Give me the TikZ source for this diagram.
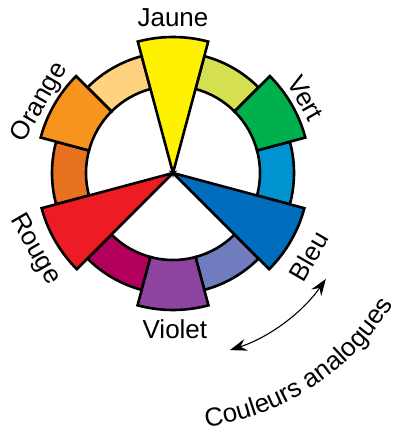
\documentclass[tikz,border=0pt]{standalone}
\usepackage{fontspec}
\setmainfont{Liberation Sans}
\usetikzlibrary{arrows.meta,decorations.text}
\definecolor{cJaune}{HTML}{FFF200}
\definecolor{cLtOrange}{HTML}{FED27F}
\definecolor{cOrange}{HTML}{F7941E}
\definecolor{cDkOrange}{HTML}{E8711F}
\definecolor{cRouge}{HTML}{ED1C24}
\definecolor{cMagenta}{HTML}{B3005C}
\definecolor{cViolet}{HTML}{8E439E}
\definecolor{cLavender}{HTML}{6F7DBF}
\definecolor{cBleu}{HTML}{006DBC}
\definecolor{cLtBleu}{HTML}{0093D0}
\definecolor{cVert}{HTML}{00B04C}
\definecolor{cYelGreen}{HTML}{D4E052}
\tikzset{myhead/.tip={Stealth[length=17pt,width=12pt,inset=6pt]}}
\newcommand\ringseg[4]{%
  \filldraw[seg,fill=#4] (#1:87) arc[start angle=#1,end angle=#2,radius=87] -- (#2:#3) arc[start angle=#2,end angle=#1,radius=#3] -- cycle;}
\newcommand\wedgeseg[3]{%
  \filldraw[seg,fill=#3] (0,0) -- (#1:136) arc[start angle=#1,end angle=#2,radius=136] -- cycle;}
\begin{document}
\begin{tikzpicture}[x=1pt,y=1pt,
  seg/.style={draw=black,line width=2.6pt,line join=miter},
  lab/.style={font=\fontsize{26}{26}\selectfont,inner sep=0pt,text height=18.6pt,text depth=0pt}]
\useasboundingbox (-173,-261) rectangle (227,173);
% tertiary ring segments
\ringseg{105}{135}{121}{cLtOrange}
\ringseg{165}{195}{121}{cDkOrange}
\ringseg{225}{255}{121}{cMagenta}
\ringseg{285}{315}{121}{cLavender}
\ringseg{345}{375}{121}{cLtBleu}
\ringseg{45}{75}{121}{cYelGreen}
% secondary (extended)
\ringseg{135}{165}{137}{cOrange}
\ringseg{255}{285}{137}{cViolet}
\ringseg{15}{45}{137}{cVert}
% primary wedges
\wedgeseg{75}{105}{cJaune}
\wedgeseg{195}{225}{cRouge}
\wedgeseg{315}{345}{cBleu}
% labels
\node[lab] (jaune) at (90:155.5) {Jaune};
\node[lab,rotate=60] (orange) at (152:153.4) {Orange};
\node[lab,rotate=-60] (vert) at (29.4:152.7) {Vert};
\node[lab,rotate=-60] (rouge) at (208.9:155) {Rouge};
\node[lab,rotate=60] (bleu) at (328.6:159) {Bleu};
\node[lab] (violet) at (-89.3:156) {Violet};
% arrow
\coordinate (a1) at (-72.2:186);
\coordinate (a2) at (-34.7:186);
\draw[line width=1.1pt,myhead-myhead] (a1) arc[start angle=-72.2,end angle=-34.7,radius=186];
% curved text
\path[decorate,decoration={text along path,text align=center,
  text={|\fontsize{26}{26}\selectfont|Couleurs analogues}}]
  (-90:256) arc[start angle=-90,end angle=-23.4,radius=256];
\end{tikzpicture}
\end{document}
